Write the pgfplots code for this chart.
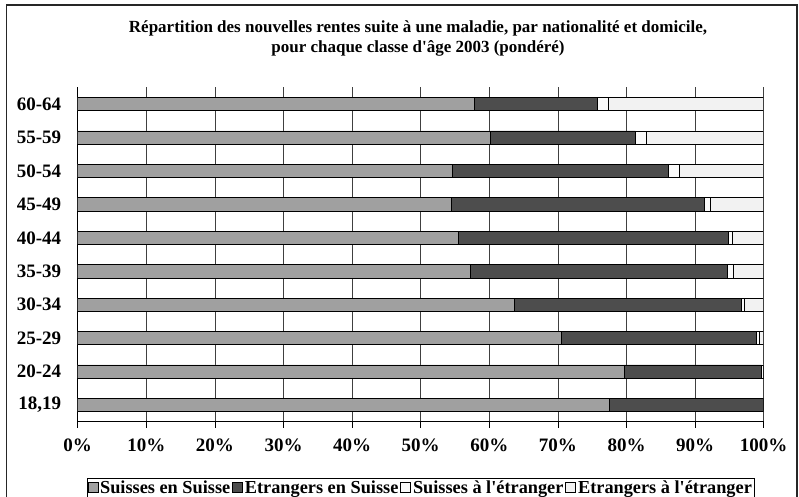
\documentclass[border=0pt]{standalone}
\usepackage{pgfplots}
\pgfplotsset{compat=1.18}
\usepackage{fontspec}
\setmainfont{Liberation Serif}[Ligatures=TeXOff]

\definecolor{suisseCH}{RGB}{160,160,160}
\definecolor{etrCH}{RGB}{77,77,77}
\definecolor{suisseEtr}{RGB}{250,250,250}
\definecolor{etrEtr}{RGB}{242,242,242}

% shares in percent, bottom (18,19) to top (60-64)
\pgfplotstableread{
pos SS   ES   SE  EE
0   77.5 22.5 0.0 0.0
1   79.7 20.0 0.2 0.1
2   70.5 28.4 0.5 0.6
3   63.6 33.2 0.3 2.9
4   57.2 37.5 0.9 4.4
5   55.5 39.3 0.6 4.6
6   54.4 36.9 0.9 7.8
7   54.6 31.5 1.6 12.3
8   60.2 21.1 1.6 17.1
9   57.8 18.0 1.5 22.7
}\rentes

\begin{document}
\begin{tikzpicture}
\useasboundingbox (0,0) rectangle (799pt,497pt);
\draw[line width=1.4pt, black!85] (6.5pt,-3pt) rectangle (797pt,492pt);
\node[font=\bfseries\fontsize{17}{20}\selectfont, align=center] at (418pt,459pt)
  {Répartition des nouvelles rentes suite à une maladie, par nationalité et domicile,\\
   pour chaque classe d'âge 2003 (pondéré)};
\begin{axis}[
    at={(77.7pt,75.3pt)}, anchor=south west,
    scale only axis,
    width=686pt, height=334.4pt,
    xbar stacked,
    bar width=13.3pt,
    xmin=0, xmax=100,
    ymin=-0.5, ymax=9.5,
    xtick={0,10,...,100},
    xticklabels={0\%,10\%,20\%,30\%,40\%,50\%,60\%,70\%,80\%,90\%,100\%},
    ytick={0,...,9},
    yticklabels={{18,19},20-24,25-29,30-34,35-39,40-44,45-49,50-54,55-59,60-64},
    extra y ticks={-0.5,0.5,...,9.5},
    extra y tick labels={},
    extra y tick style={major tick length=6pt, tick align=outside, grid=none},
    y tick style={draw=none},
    x tick style={black, line width=0.8pt},
    major tick length=6pt,
    tick align=outside,
    xtick pos=bottom,
    ytick pos=left,
    xmajorgrids,
    grid style={black!75, line width=0.8pt},
    axis line style={black, line width=0.8pt},
    axis x line*=bottom,
    axis y line*=left,
    ticklabel style={font=\bfseries\fontsize{19}{22}\selectfont},
    xticklabel style={yshift=-8pt},
    yticklabel style={xshift=-7pt},
    legend columns=4,
    legend style={at={(0.5,-0.168)}, anchor=north, draw=black,
        font=\bfseries\fontsize{18.3}{20}\selectfont, inner sep=0.5pt,
        /tikz/every even column/.append style={column sep=0pt}},
    legend image code/.code={\draw[#1, draw=black, line width=0.6pt] (0pt,-5pt) rectangle (10pt,5pt);},
    every axis plot/.append style={draw=black, line width=0.6pt},
]
\addplot[fill=suisseCH] table[x=SS, y=pos] {\rentes};
\addplot[fill=etrCH] table[x=ES, y=pos] {\rentes};
\addplot[fill=suisseEtr] table[x=SE, y=pos] {\rentes};
\addplot[fill=etrEtr] table[x=EE, y=pos] {\rentes};
\legend{Suisses en Suisse,Etrangers en Suisse,Suisses à l'étranger,Etrangers à l'étranger}
\end{axis}
\end{tikzpicture}
\end{document}
